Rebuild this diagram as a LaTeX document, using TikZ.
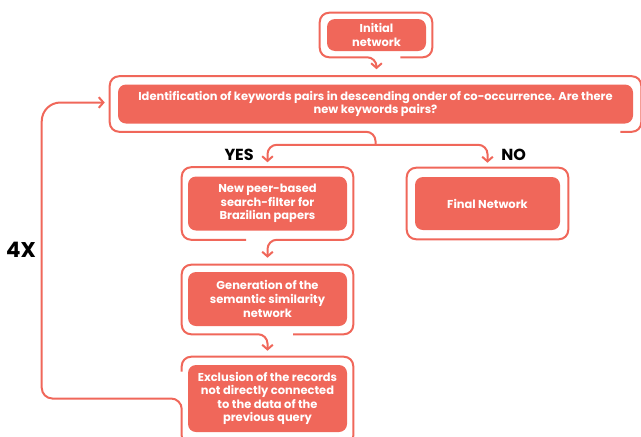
\documentclass[tikz,border=0pt]{standalone}
\usepackage{fontspec}
\setmainfont{Poppins}
\usetikzlibrary{arrows.meta,calc}
\definecolor{salmon}{HTML}{F0675A}
\begin{document}
\begin{tikzpicture}[x=0.75pt,y=-0.75pt,
  box/.style={fill=salmon, rounded corners=6pt, text=white, font=\fontsize{8.6}{10.2}\selectfont\bfseries, align=center, inner sep=0pt},
  outl/.style={draw=salmon, line width=1.5pt, rounded corners=7pt},
  arr/.style={-{Straight Barb[length=3.5pt,width=8pt,line width=1.5pt]}},
  biarr/.style={{Straight Barb[length=3.5pt,width=8pt,line width=1.5pt]}-{Straight Barb[length=3.5pt,width=8pt,line width=1.5pt]}},
  lab/.style={font=\fontsize{12}{14}\selectfont\bfseries, text=black, inner sep=0pt}]
\useasboundingbox (0,0) rectangle (641,436);
\clip (0,0) rectangle (641,436);

% boxes
\node[box, minimum width=74.25pt, minimum height=24pt] (init) at (376.5,35) {Initial\\network};
\node[box, minimum width=386.25pt, minimum height=29.25pt, font=\fontsize{8.6}{9.8}\selectfont\bfseries] (main) at (375.5,104)
  {Identification of keywords pairs in descending onder of co-occurrence. Are there\\new keywords pairs?};
\node[box, minimum width=119.25pt, minimum height=40.5pt] (filt) at (267.5,203.5)
  {New peer-based\\search-filter for\\Brazilian papers};
\node[box, minimum width=108.75pt, minimum height=39.75pt] (fin) at (487.5,203.5) {Final Network};
\node[box, minimum width=119.25pt, minimum height=40.5pt] (gen) at (267.5,299)
  {Generation of the\\semantic similarity\\network};
\node[box, minimum width=119.25pt, minimum height=50.25pt] (excl) at (267.5,398.5)
  {Exclusion of the records\\not directly connected\\to the data of the\\previous query};

% labels
\node[lab, anchor=east] (yes) at (254,155) {YES};
\node[lab, anchor=west] (no) at (501,155) {NO};
\node[lab, font=\fontsize{16}{18}\selectfont\bfseries] (four) at (21,250) {4X};

% outline of initial network + connector
\draw[outl,arr] ($(init.south east)+(-26,6)$) -| ($(init.north east)+(6,-6)$)
  -| ($(init.south west)+(-7,6)$) -| ($(main.north)+(1,-15)$);

% outline of main box + stem
\draw[outl] ($(main.south east)+(-13,8)$) -| ($(main.north east)+(8,-8)$)
  -| ($(main.south west)+(-8,8)$) -| ($(main.south)+(0,21)$);
% branch YES / NO
\draw[outl,biarr] ($(filt.north)+(0,-14)$) |- ($(main.south)+(0,21)$) -| ($(fin.north)+(0,-14)$);

% outline of filter box + connector
\draw[outl,arr] ($(filt.south)+(-21.5,9)$) -| ($(filt.north west)+(-6,-9)$)
  -| ($(filt.south east)+(6,9)$) -| ($(gen.north)+(0,-14)$);

% outline of final network
\draw[outl] ($(fin.south west)+(-8,9)$) rectangle ($(fin.north east)+(8,-9)$);

% outline of generation box + connector
\draw[outl,arr] ($(gen.south)+(25.5,8)$) -| ($(gen.north east)+(6,-7)$)
  -| ($(gen.south west)+(-6,8)$) -| ($(excl.north)+(0,-14)$);

% outline of exclusion box + loop back
\draw[outl,arr] ($(excl.north west)+(-6,7)$) |- ($(excl.north east)+(6,-8)$)
  |- ($(excl.south west)+(-6,13)$)
  [rounded corners=8pt] |- ($(excl.west)+(-146,0)$)
  [rounded corners=14pt] |- ($(main.west)+(-13,-1.5)$);
\end{tikzpicture}
\end{document}
